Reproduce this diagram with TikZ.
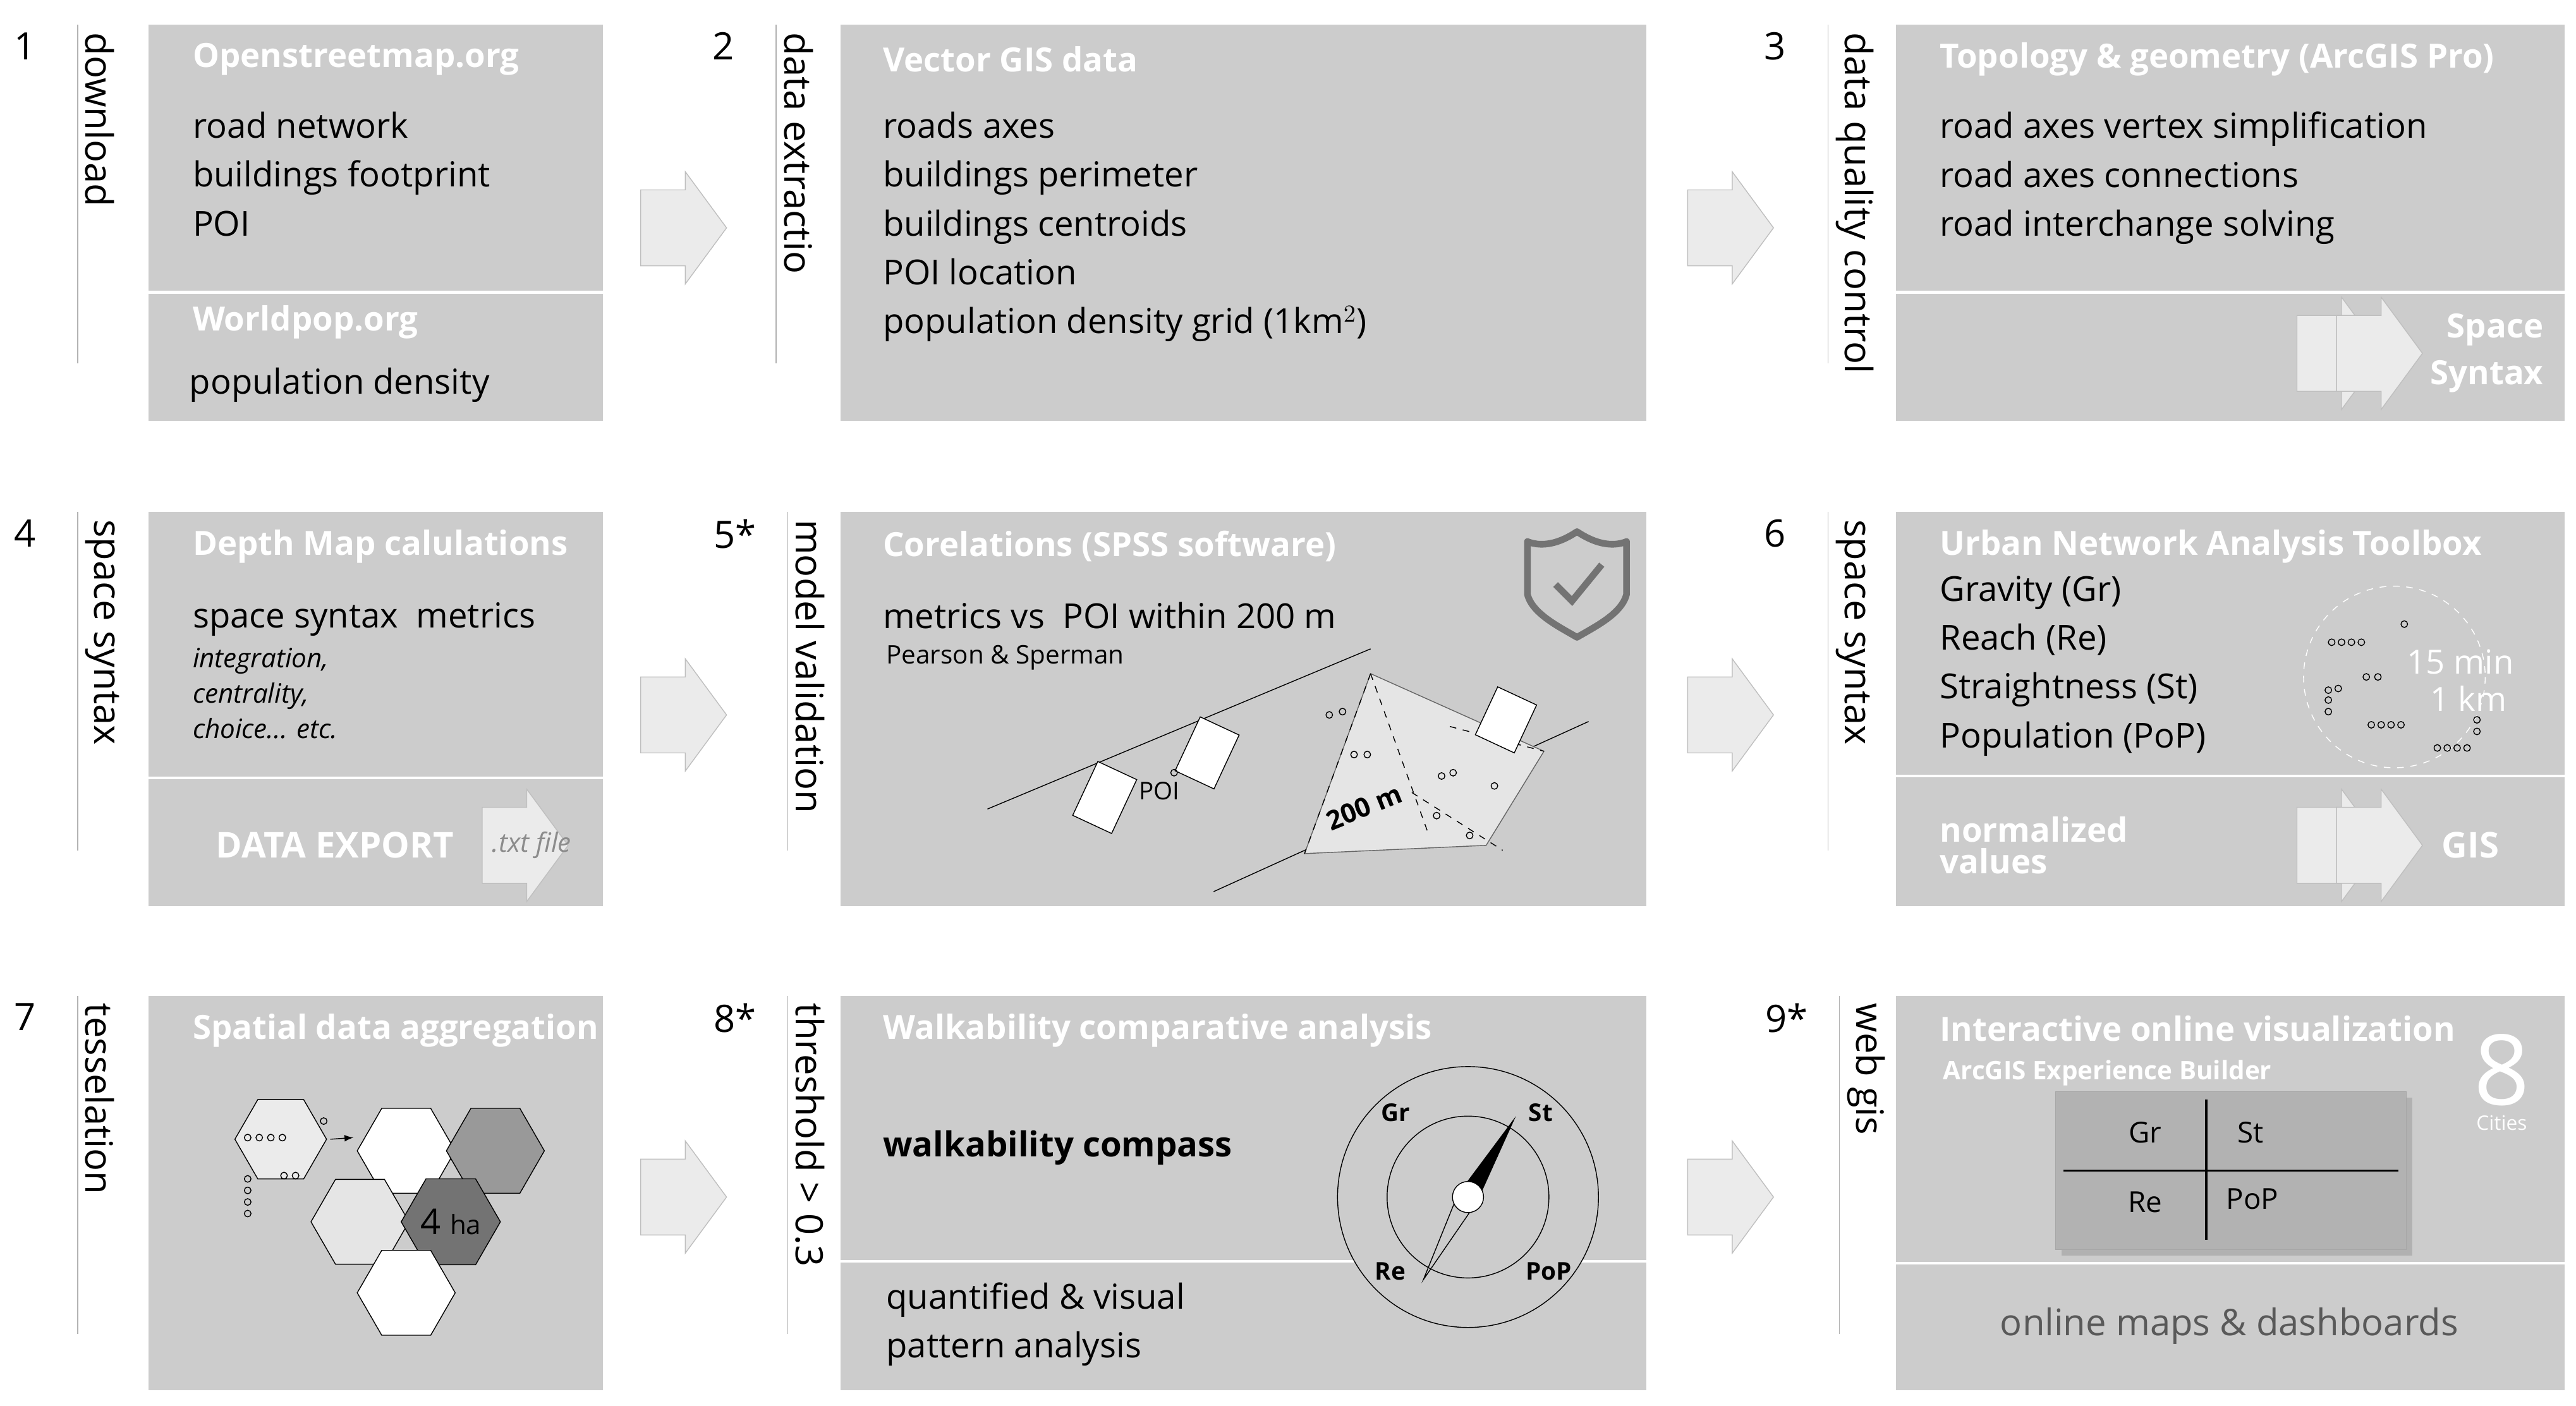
\documentclass[tikz,border=0pt]{standalone}
\usepackage{fontspec}
\setmainfont{Open Sans}
\usetikzlibrary{positioning, shapes.geometric, calc, shadows}

\begin{document}
\begin{tikzpicture}[x=0.02613cm, y=-0.02613cm,
        % stiluri
        panel/.style={fill=black!20, draw=none},
        split/.style={white, line width=1.2pt},
        head/.style={anchor=west, text=white, font=\fontsize{15}{17}\selectfont\bfseries},
        item/.style={anchor=north west, align=left, font=\fontsize{15.5}{22}\selectfont},
        stepno/.style={anchor=north, font=\fontsize{17}{20}\selectfont},
        side/.style={anchor=south west, rotate=-90, font=\fontsize{17}{20}\selectfont},
        flow/.style={fill=black!8, draw=black!25},
        hexa/.style={regular polygon, regular polygon sides=6, minimum size=1.55cm,
                draw, inner sep=0pt},
        dot/.style={circle, draw, inner sep=0pt, minimum size=3pt},
        pics/block/.style={code={
                \path[flow, pic actions] (-26,-23) -- (1,-23) -- (1,-34) -- (26,0) -- (1,34) -- (1,23)
                    -- (-26,23) -- cycle;}}
    ]
    \useasboundingbox (0,0) rectangle (1560,851.5);

    % panouri
    \foreach \px/\py/\qx/\qy/\nm in {90/15/365/255/pa, 509/15/997/255/pb, 1148/15/1553/255/pc,
            90/310/365/549/pd, 509/310/997/549/pe, 1148/310/1553/549/pf,
            90/603/365/842/pg, 509/603/997/842/ph, 1148/603/1553/842/pi}
    \fill[panel] (\px,\py) rectangle (\qx,\qy) coordinate (\nm);
    \draw[split] (90,177) -- (365,177);
    \draw[split] (1148,177) -- (1553,177);
    \draw[split] (90,471) -- (365,471);
    \draw[split] (1148,470) -- (1553,470);
    \draw[split] (509,764) -- (997,764);
    \draw[split] (1148,765) -- (1553,765);

    % numere si etichete laterale
    \foreach \nx/\ny/\num/\lab in {15/15/1/download, 438/15/2/data extractio, 1075/15/3/data quality control,
            15/310/4/space syntax, 445/310/5*/model validation, 1075/310/6/space syntax,
            15/603/7/tesselation, 445/603/8*/threshold > 0.3, 1082/603/9*/web gis}{
        \node[stepno] (n\num) at (\nx,\ny) {\num};
        \draw[black!30] (\nx+32,\ny) -- (\nx+32,\ny+205);
        \node[side] (s\num) at (\nx+32,\ny) {\lab};
    }

    % sageti intre coloane
    \foreach \ax/\ay in {414/138, 1048/138, 414/433, 1048/433, 414/725, 1048/725}
    \pic at (\ax,\ay) {block};

    % 1
    \node[head] (h1) at (112,36) {Openstreetmap.org};
    \node[item] (t1) at (112,63) {road network\\buildings footprint\\POI};
    \node[head] (h1b) at (112,195) {Worldpop.org};
    \node[item] (t1b) at (110,218) {population density};
    % 2
    \node[head] (h2) at (530,36) {Vector GIS data};
    \node[item] (t2) at (530,63) {roads axes\\buildings perimeter\\buildings centroids\\POI location\\population density grid (1km$^2$)};
    % 3
    \node[head] (h3) at (1170,36) {Topology \& geometry (ArcGIS Pro)};
    \node[item] (t3) at (1170,63) {road axes vertex simplification\\road axes connections\\road interchange solving};
    \pic at (1417,214) {block};
    \pic[fill=black!12] at (1441,214) {block};
    \node[head, align=right, anchor=east] (ss3) at (1545,214) {Space\\[4pt]Syntax};

    % 4
    \node[head] (h4) at (112,331) {Depth Map calulations};
    \node[item] (t4) at (112,360) {space syntax\ \ metrics\\[-4pt]
        {\fontsize{12}{24}\selectfont\itshape integration,}\\[-6pt]
        {\fontsize{12}{24}\selectfont\itshape centrality,}\\[-6pt]
        {\fontsize{12}{24}\selectfont\itshape choice... etc.}};
    \node[head, font=\fontsize{16}{20}\selectfont\bfseries] (de) at (126,512) {DATA EXPORT};
    \pic[fill=black!12] at (318,512) {block};
    \node[text=black!45, font=\fontsize{12}{14}\selectfont\itshape] (txl) at (322,512) {.txt file};

    % 5
    \node[head] (h5) at (530,331) {Corelations (SPSS software)};
    \node[item] (t5) at (530,360) {metrics vs\ \ POI within 200 m};
    \node[anchor=north west, font=\fontsize{11.5}{14}\selectfont] (t5b) at (532,386) {Pearson \& Sperman};
    \draw[black!55, line width=3pt, line join=round]
        (955,322) .. controls (940,332) and (930,330) .. (925,328) -- (925,360)
        .. controls (928,372) and (945,380) .. (955,386) .. controls (965,380) and (982,372) .. (985,360)
        -- (985,328) .. controls (980,330) and (970,332) .. cycle;
    \draw[black!55, line width=3pt] (942,354) -- (952,364) -- (970,342);
    \draw (598,490) -- (830,393);
    \draw (735,540) -- (962,437);
    \fill[black!10, draw=black!60] (830,408) -- (935,455) -- (900,512) -- (790,517) -- cycle;
    \draw[dashed] (830,408) -- (865,505);
    \draw[dashed] (830,408) -- (790,517);
    \draw[dashed] (878,440) -- (935,455);
    \draw[dashed] (855,480) -- (910,515);
    \draw[fill=white, rotate around={-25:(669,483)}] (656,465) rectangle (682,501);
    \draw[fill=white, rotate around={-25:(731,456)}] (718,438) rectangle (744,474);
    \draw[fill=white, rotate around={-25:(912,436)}] (899,420) rectangle (925,452);
    \node[font=\fontsize{11}{12}\selectfont] (poi) at (702,479) {POI};
    \node[font=\fontsize{12}{12}\selectfont\bfseries, rotate=22, inner sep=0pt] (d200) at (826,489) {200 m};
    \foreach \dx/\dy in {805/433, 813/431, 820/457, 828/457, 873/470, 880/468, 905/476, 870/494, 890/506, 711/468}
    \node[dot] at (\dx,\dy) {};

    % 6
    \node[head] (h6) at (1170,331) {Urban Network Analysis Toolbox};
    \node[item] (t6) at (1170,344) {Gravity (Gr)\\Reach (Re)\\Straightness (St)\\Population (PoP)};
    \draw[white, dashed] (1450,410) circle (55);
    \node[text=white, font=\fontsize{15}{16}\selectfont] (m15) at (1490,401) {15 min};
    \node[text=white, font=\fontsize{15}{16}\selectfont] (k1) at (1495,423) {1 km};
    \foreach \dx/\dy in {1412/389, 1418/389, 1424/389, 1430/389, 1456/378, 1410/418, 1410/424, 1410/431, 1416/417,
            1433/410, 1440/410, 1436/439, 1442/439, 1448/439, 1454/439, 1476/453, 1482/453, 1488/453, 1494/453,
            1500/436, 1500/443}
    \node[dot] at (\dx,\dy) {};
    \node[head, align=left, font=\fontsize{15}{14}\selectfont\bfseries] (nv) at (1170,512) {normalized\\values};
    \pic at (1417,512) {block};
    \pic[fill=black!12] at (1441,512) {block};
    \node[head, font=\fontsize{16}{20}\selectfont\bfseries] (gis) at (1474,512) {GIS};

    % 7
    \node[head] (h7) at (112,624) {Spatial data aggregation};
    \node[hexa, minimum size=1.45cm, fill=black!8] (hx0) at (170,690) {};
    \node[hexa, fill=white] (hx1) at (246,697) {};
    \node[hexa, fill=black!40] (hx2) at (300,697) {};
    \node[hexa, fill=black!10] (hx3) at (218,740) {};
    \node[hexa, fill=black!55] (hx4) at (273,740) {\fontsize{16}{18}\selectfont 4 \fontsize{12}{14}\selectfont ha};
    \node[hexa, fill=white] (hx5) at (246,783) {};
    \draw[-{latex}] (hx0.east) ++(2,0) coordinate (ha) -- ($(hx1.west)+(-2,-8)$);
    \foreach \dx/\dy in {150/689, 157/689, 164/689, 171/689, 196/679, 172/712, 179/712,
            150/714, 150/721, 150/728, 150/735}
    \node[dot] at (\dx,\dy) {};

    % 8
    \node[head] (h8) at (530,624) {Walkability comparative analysis};
    \node[item, font=\fontsize{15.5}{20}\selectfont\bfseries] (t8) at (530,680) {walkability compass};
    \node[item] (t8b) at (532,772) {quantified \& visual\\pattern analysis};
    \draw[fill=black!20] (889,725) circle (79);
    \draw (889,725) circle (49);
    \fill (918,676) -- (895,727) -- (883,723) -- cycle;
    \draw (883,723) -- (862,775) -- (895,727);
    \node[circle, draw, fill=white, minimum size=14pt, inner sep=0pt] (pivot) at (889,725) {};
    \node[font=\fontsize{11}{13}\selectfont\bfseries] (gr) at (845,674) {Gr};
    \node[font=\fontsize{11}{13}\selectfont\bfseries] (st) at (933,674) {St};
    \node[font=\fontsize{11}{13}\selectfont\bfseries] (re) at (842,770) {Re};
    \node[font=\fontsize{11}{13}\selectfont\bfseries] (pop) at (938,770) {PoP};

    % 9
    \node[head] (h9) at (1170,623) {Interactive online visualization};
    \node[head, font=\fontsize{11.5}{13}\selectfont\bfseries] (h9b) at (1172,650) {ArcGIS Experience Builder};
    \node[text=white, font=\fontsize{44}{44}\selectfont, inner sep=0pt] (c8) at (1515,648) {8};
    \node[text=white, font=\fontsize{9}{11}\selectfont, inner sep=1pt] (cit) at (1515,680) {Cities};
    \node[fill=black!30, draw=black!35, minimum width=5.55cm, minimum height=2.5cm,
        drop shadow={opacity=0.35}] (map) at (1351,709) {};
    \draw[line width=1pt] (map.north) ++(-15,5) coordinate (ct) -- ++(0,85);
    \draw[line width=1pt] ($(map.west)+(5,0)$) -- ($(map.east)+(-5,0)$);
    \node[font=\fontsize{13}{15}\selectfont] (mgr) at (1299,686) {Gr};
    \node[font=\fontsize{13}{15}\selectfont] (mst) at (1363,686) {St};
    \node[font=\fontsize{13}{15}\selectfont] (mre) at (1299,728) {Re};
    \node[font=\fontsize{13}{15}\selectfont] (mpop) at (1364,726) {PoP};
    \node[text=black!65, font=\fontsize{16.5}{20}\selectfont] (om) at (1350,803) {online maps \& dashboards};
\end{tikzpicture}
\end{document}
